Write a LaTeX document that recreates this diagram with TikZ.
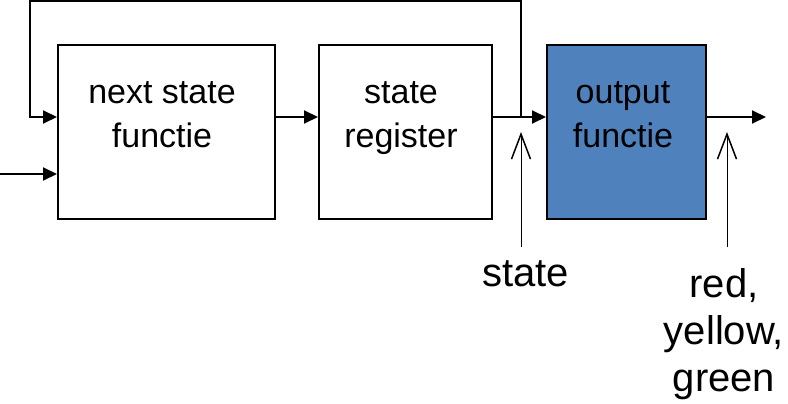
\documentclass[tikz,border=0pt]{standalone}
\usepackage{fontspec}
\setmainfont{Liberation Sans}
\usetikzlibrary{arrows.meta}
\definecolor{blokblauw}{RGB}{79,129,189}
\tikzset{blok/.style={draw=black,line width=2pt,inner sep=0pt,minimum height=174pt}}
\tikzset{tekst/.style={font=\fontsize{34}{44}\selectfont,align=center,inner sep=0pt,anchor=north}}
\tikzset{lbl/.style={font=\fontsize{40}{47}\selectfont,align=center,inner sep=0pt,anchor=north}}
\tikzset{pijl/.style={line width=2pt,-{Triangle[length=14pt,width=13pt]}}}
\tikzset{wijzer/.style={line width=1pt,-{Straight Barb[length=25pt,width=19pt,line width=1.5pt]}}}

\begin{document}
\begin{tikzpicture}[x=1pt,y=-1pt]
          \useasboundingbox (0,0) rectangle (788,404);
          \node[blok,minimum width=217pt] (nsf) at (166.5,132) {};
          \node[blok,minimum width=173pt] (sr) at (405.5,132) {};
          \node[blok,minimum width=159pt,fill=blokblauw] (of) at (626.5,132) {};
          \node[tekst] (nsf-t) at (162,81.5) {next state\\functie};
          \node[tekst] (sr-t) at (401,81.5) {state\\register};
          \node[tekst] (of-t) at (623,81.5) {output\\functie};
          \coordinate (in) at (0,174);
          \coordinate (tak) at (521,117);
          \coordinate (boven) at (30,1);
          \coordinate (uit) at (766,117);
          \coordinate (wijsA) at (521,247);
          \coordinate (puntA) at (521,132);
          \coordinate (wijsB) at (727,247);
          \coordinate (puntB) at (727,132);
          \draw[pijl] (in) -- (nsf.west |- in);
          \draw[pijl] ([yshift=15pt]nsf.east) -- ([yshift=15pt]sr.west);
          \draw[pijl] ([yshift=15pt]sr.east) -- ([yshift=15pt]of.west);
          \draw[pijl] (tak) |- (boven) |- ([yshift=15pt]nsf.west);
          \draw[pijl] ([yshift=15pt]of.east) -- (uit);
          \draw[wijzer] (wijsA) -- (puntA);
          \draw[wijzer] (wijsB) -- (puntB);
          \node[lbl] (st) at (525.7,260) {state};
          \node[lbl] (rgg) at (724,268.5) {red,\\yellow,\\green};
        \end{tikzpicture}
\end{document}
